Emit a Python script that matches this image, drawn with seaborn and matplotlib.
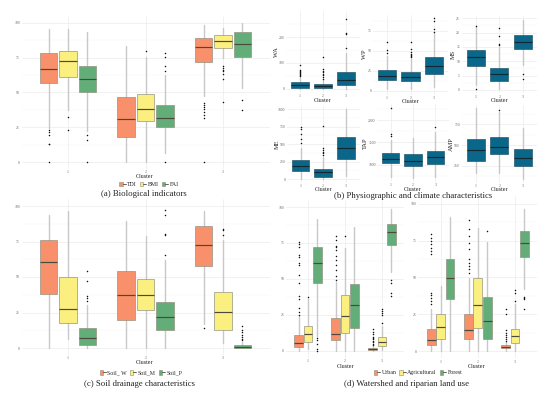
import matplotlib
matplotlib.use("Agg")
import matplotlib.pyplot as plt
import seaborn as sns
from matplotlib.patches import Patch
from matplotlib.lines import Line2D
from matplotlib.legend_handler import HandlerTuple

CLUSTERS = ["1", "2", "3"]

# ---------- (a) Biological indicators (series x cluster) ----------
A_SERIES = ["TDI", "BMI", "FAI"]
A_Q1 = [[56.6, 18.2, 72.2], [61.2, 29.5, 82.0], [50.4, 25.2, 75.3]]
A_MED = [[66.9, 31.2, 82.7], [72.4, 38.4, 87.3], [59.7, 31.7, 84.9]]
A_Q3 = [[78.2, 46.8, 89.2], [80.1, 49.2, 91.1], [69.1, 40.8, 93.8]]
A_LO = [[24.5, 0.0, 47.2], [37.6, 0.0, 74.8], [22.5, 6.5, 53.2]]
A_HI = [[95.9, 83.7, 98.8], [95.7, 75.3, 96.2], [93.8, 62.8, 100.0]]
A_FL = [[[22.8, 21.8, 19.4, 13.2, 12.7, 0.0], [], [42.4, 41.2, 39.6, 38.1, 36.0, 34.0, 31.7, 0.0]],
        [[32.4, 22.8], [79.6], [68.8, 67.5, 66.4, 65.2, 63.1, 60.0, 42.9]],
        [[19.2, 16.1, 0.0], [78.4, 75.5, 68.8, 65.7, 0.0], [44.4, 37.6]]]

# ---------- (b) Physiographic and climate (one series per variable) ----------
WA_Q1 = [5, 3, 17]; WA_MED = [15, 10, 36]; WA_Q3 = [26, 18, 65]
WA_LO = [0, 0, 0]; WA_HI = [45, 34, 137]
WA_FL = [[48, 52, 56, 60, 64, 68, 73, 93], [40, 46, 52, 58, 64, 70, 78, 124], [159, 210, 215, 268]]

WP_Q1 = [13.4, 12.5, 21]; WP_MED = [18.75, 17.9, 31]; WP_Q3 = [26.6, 23.75, 42]
WP_LO = [2, 2, 4.5]; WP_HI = [43.75, 40, 72]
WP_FL = [[48, 51.6, 60.9], [42, 43.5, 45, 46.5, 49, 52.5, 61.7], [74, 77, 88, 90.8]]

MS_Q1 = [8.5, 3.1, 14.2]; MS_MED = [11.4, 5.5, 16.6]; MS_Q3 = [13.8, 7.8, 19.3]
MS_LO = [1.8, 0.3, 8.7]; MS_HI = [21.8, 15.0, 24.4]
MS_FL = [[22.4, 0.5], [15.6, 16.0, 18.8, 21.6], [5.6, 3.9]]

ME_Q1 = [115, 33, 292]; ME_MED = [191, 105, 441]; ME_Q3 = [268, 144, 603]
ME_LO = [0, 0, 43]; ME_HI = [441, 310, 1000]
ME_FL = [[513, 570, 645, 713, 751], [350, 370, 390, 410, 440, 766], []]

TAP_Q1 = [1038, 971, 1009]; TAP_MED = [1135, 1076, 1166]; TAP_Q3 = [1255, 1233, 1300]
TAP_LO = [730, 695, 730]; TAP_HI = [1560, 1590, 1740]
TAP_FL = [[1640, 1680, 2278], [], [1852]]

AMP_Q1 = [305, 387, 240]; AMP_MED = [439, 476, 345]; AMP_Q3 = [573, 594, 448]
AMP_LO = [162, 162, 85]; AMP_HI = [947, 906, 704]
AMP_FL = [[], [930], []]

# ---------- (c) Soil drainage ----------
C_SERIES = ["Soil_ W", "Soil_M", "Soil_P"]
C_Q1 = [[38.0, 20.0, 57.7], [17.8, 27.0, 12.9], [1.9, 12.9, 0.0]]
C_MED = [[60.8, 37.1, 72.8], [27.7, 37.3, 25.1], [7.0, 22.0, 0.7]]
C_Q3 = [[76.0, 54.5, 85.7], [50.0, 48.6, 39.4], [13.8, 32.6, 1.9]]
C_LO = [[0.0, 0.0, 17.0], [6.3, 0.0, 3.5], [0.0, 0.0, 0.0]]
C_HI = [[93.9, 89.2, 96.5], [96.5, 78.6, 76.3], [30.5, 62.2, 4.5]]
C_FL = [[[], [], [14.0]],
        [[], [], [79.3, 83.3, 83.8]],
        [[33.0, 35.0, 36.5, 47.5, 54.5], [65.7, 79.3, 80.0, 93.9, 97.4], [5.5, 6.5, 8.0, 9.5, 11.0, 13.0, 15.3]]]

# ---------- (d) Watershed (left) and riparian (right) land use ----------
D_SERIES = ["Urban", "Agricultural", "Forest"]
DW_Q1 = [[2.8, 7.6, 0.7], [6.3, 12.7, 3.2], [47.5, 15.7, 73.6]]
DW_MED = [[5.6, 12.0, 1.6], [11.6, 24.3, 6.5], [60.9, 31.9, 82.6]]
DW_Q3 = [[11.3, 23.1, 2.3], [17.6, 38.7, 9.5], [72.2, 46.3, 88.2]]
DW_LO = [[0.0, 0.0, 0.0], [1.6, 0.0, 0.5], [10.4, 0.0, 55.0]]
DW_HI = [[24.0, 48.0, 3.5], [36.0, 71.3, 17.4], [91.9, 86.3, 98.4]]
DW_FL = [[[25, 27, 30, 36, 38, 47, 53, 60, 61, 65, 67, 72, 74, 76],
          [49.5, 52, 56, 60, 63, 66, 70, 72, 73, 77, 80],
          [4, 5, 6, 7, 8, 9, 10, 12, 13, 15]],
         [[37.5], [79.9], [19.7, 25.2, 26.6, 27.8, 29]],
         [[9.3, 7.6, 4.6, 1.6, 0.0], [], [49, 47, 40, 38]]]

DR_Q1 = [[3.8, 8.4, 1.8], [8.4, 15.8, 5.7], [35.1, 8.4, 64.0]]
DR_MED = [[7.5, 14.0, 2.9], [16.3, 31.2, 10.2], [49.8, 20.1, 73.5]]
DR_Q3 = [[15.2, 24.9, 4.1], [24.9, 49.3, 15.2], [62.2, 36.7, 81.4]]
DR_LO = [[0.0, 0.0, 0.0], [0.0, 0.0, 0.0], [0.0, 0.0, 42.0]]
DR_HI = [[28.3, 49.8, 6.0], [44.1, 83.7, 31.7], [91.2, 74.2, 96.2]]
DR_FL = [[[32, 34, 36, 38, 39.6, 65.6, 67.8, 70, 72.4, 74.7, 76.9, 79.2],
          [53.2, 55.4, 57.7, 60, 62.2, 69, 73.5, 78, 83, 88.9],
          [7, 8, 9.5, 11, 12.5, 14, 25, 28.7]],
         [[], [], [34, 39.6, 41.2]],
         [[], [81.4], [28.3, 35, 36, 37]]]

TRIO = ["#f8906b", "#fbef7f", "#63ae78"]
BLUE = "#0b678a"

sns.set_theme(style="white")
plt.rcParams["font.family"] = ["Liberation Serif", "DejaVu Serif"]

W, H = 550, 393
fig = plt.figure(figsize=(5.5, 3.93), dpi=100)
fig.patch.set_facecolor("white")


def px_axes(l, t, r, b):
    return fig.add_axes([l / W, 1 - b / H, (r - l) / W, (b - t) / H])


def style(ax, ylim, yticks, yminor, labels=None):
    ax.set_facecolor("none")
    ax.set_xlim(0.4, 3.6)
    ax.set_ylim(*ylim)
    ax.set_xticks([1, 2, 3])
    ax.set_xticklabels(CLUSTERS)
    ax.set_yticks(yticks)
    ax.set_yticklabels(labels if labels else [str(t) for t in yticks])
    ax.set_yticks(yminor, minor=True)
    ax.grid(True, which="major", color="#ebebeb", lw=0.5)
    ax.grid(True, which="minor", axis="y", color="#f5f5f5", lw=0.35)
    ax.set_axisbelow(True)
    for sp in ax.spines.values():
        sp.set_visible(False)
    ax.tick_params(which="both", length=0, labelsize=2.7, colors="#666666", pad=1.2)
    ax.tick_params(axis="x", pad=0.8)


def boxes(ax, q1, med, q3, lo, hi, fl, pos, width, face, edge, medc):
    stats = [dict(med=med[c], q1=q1[c], q3=q3[c], whislo=lo[c], whishi=hi[c], fliers=fl[c])
             for c in range(len(med))]
    ax.bxp(stats, positions=pos, widths=width, patch_artist=True, showcaps=False,
           manage_ticks=False,
           boxprops=dict(facecolor=face, edgecolor=edge, linewidth=0.45, zorder=2),
           medianprops=dict(color=medc, linewidth=0.85, zorder=3),
           whiskerprops=dict(color="#c8c8c8", linewidth=1.0, zorder=1),
           flierprops=dict(marker="o", markersize=1.1, markerfacecolor="#111111",
                           markeredgecolor="none", zorder=3))


def grouped(ax, q1, med, q3, lo, hi, fl, width=0.225):
    offs = [-0.25, 0.0, 0.25]
    for s in range(3):
        pos = [c + 1 + offs[s] for c in range(3)]
        boxes(ax, q1[s], med[s], q3[s], lo[s], hi[s], fl[s], pos, width,
              TRIO[s], "#8c8c7c", "#4a4a3c")


def legend(names, x, y):
    handles = [(Patch(facecolor=TRIO[i], edgecolor="#8c8c7c", lw=0.4),
                Line2D([], [], color="#4a4a3c", lw=0.6)) for i in range(3)]
    fig.legend(handles, names, loc="center", bbox_to_anchor=(x / W, 1 - y / H),
               ncol=3, frameon=False, fontsize=4.2, handlelength=1.1, handleheight=0.8,
               handletextpad=0.25, columnspacing=0.5, borderpad=0,
               handler_map={tuple: HandlerTuple(ndivide=None, pad=0)})


def ftext(x, y, s, size, **kw):
    fig.text(x / W, 1 - y / H, s, fontsize=size, ha="center", va="center", color="#222222", **kw)


# ---------- panel (a) ----------
axa = px_axes(21.5, 16, 269.5, 169)
style(axa, (-5, 105), [0, 25, 50, 75, 100], [12.5, 37.5, 62.5, 87.5])
grouped(axa, A_Q1, A_MED, A_Q3, A_LO, A_HI, A_FL)
ftext(145, 177, "Cluster", 4.3)
legend(A_SERIES, 149, 184.5)
ftext(144, 194, "(a) Biological indicators", 6.3)

# ---------- panel (c) ----------
axc = px_axes(21.5, 198.9, 269.5, 355.1)
style(axc, (-5, 105), [0, 25, 50, 75, 100], [12.5, 37.5, 62.5, 87.5])
grouped(axc, C_Q1, C_MED, C_Q3, C_LO, C_HI, C_FL)
ftext(145, 362.8, "Cluster", 4.3)
legend(C_SERIES, 141, 372.8)
ftext(139, 383.8, "(c) Soil drainage characteristics", 6.3)

# ---------- panel (b) ----------
B_PANELS = [
    ("WA", (286, 11.3, 360, 92.6), (-14, 299), [0, 100, 200], [50, 150, 250],
     (WA_Q1, WA_MED, WA_Q3, WA_LO, WA_HI, WA_FL), 277, 100.6),
    ("WP", (373, 14.6, 448, 94.6), (-4.5, 95.5), [0, 25, 50, 75], [12.5, 37.5, 62.5, 87.5],
     (WP_Q1, WP_MED, WP_Q3, WP_LO, WP_HI, WP_FL), 364.5, 101.8),
    ("MS", (461.6, 16.3, 537, 93.4), (-1.2, 25.7), [0, 5, 10, 15, 20, 25],
     [2.5, 7.5, 12.5, 17.5, 22.5], (MS_Q1, MS_MED, MS_Q3, MS_LO, MS_HI, MS_FL), 452.8, 100.8),
    ("ME", (287, 105.9, 359.5, 182.5), (-50, 1050), [0, 250, 500, 750, 1000],
     [125, 375, 625, 875], (ME_Q1, ME_MED, ME_Q3, ME_LO, ME_HI, ME_FL), 277, 189.5),
    ("TAP", (377.3, 104.2, 448.7, 181.8), (616, 2357), [1000, 1500, 2000],
     [750, 1250, 1750, 2250], (TAP_Q1, TAP_MED, TAP_Q3, TAP_LO, TAP_HI, TAP_FL), 365, 189.5),
    ("AMP", (461.6, 104.8, 537, 182.6), (42, 990), [250, 500, 750], [125, 375, 625, 875],
     (AMP_Q1, AMP_MED, AMP_Q3, AMP_LO, AMP_HI, AMP_FL), 451.8, 189.5),
]
for name, rect, ylim, yt, ym, data, ylx, cly in B_PANELS:
    ax = px_axes(*rect)
    style(ax, ylim, yt, ym)
    boxes(ax, *data, [1, 2, 3], 0.78, BLUE, "#1e4f63", "#142833")
    l, t, r, b = rect
    ftext(ylx, (t + b) / 2, name, 4.6, rotation=90)
    ftext((l + r) / 2, cly, "Cluster", 4.3)
ftext(413, 196, "(b) Physiographic and climate characteristics", 6.3)

# ---------- panel (d) ----------
axdw = px_axes(285.8, 199.8, 404.2, 358.2)
style(axdw, (-5, 105), [0, 25, 50, 75, 100], [12.5, 37.5, 62.5, 87.5])
grouped(axdw, DW_Q1, DW_MED, DW_Q3, DW_LO, DW_HI, DW_FL, width=0.235)
axdr = px_axes(418.4, 196.3, 537.3, 358.4)
style(axdr, (-5, 105), [0, 25, 50, 75, 100], [12.5, 37.5, 62.5, 87.5])
grouped(axdr, DR_Q1, DR_MED, DR_Q3, DR_LO, DR_HI, DR_FL, width=0.235)
ftext(346, 366.5, "Cluster", 4.3)
ftext(477, 366.5, "Cluster", 4.3)
legend(D_SERIES, 418, 372.8)
ftext(406, 383.8, "(d) Watershed and riparian land use", 6.3)

fig.savefig("out.png", dpi=100, facecolor="white")
